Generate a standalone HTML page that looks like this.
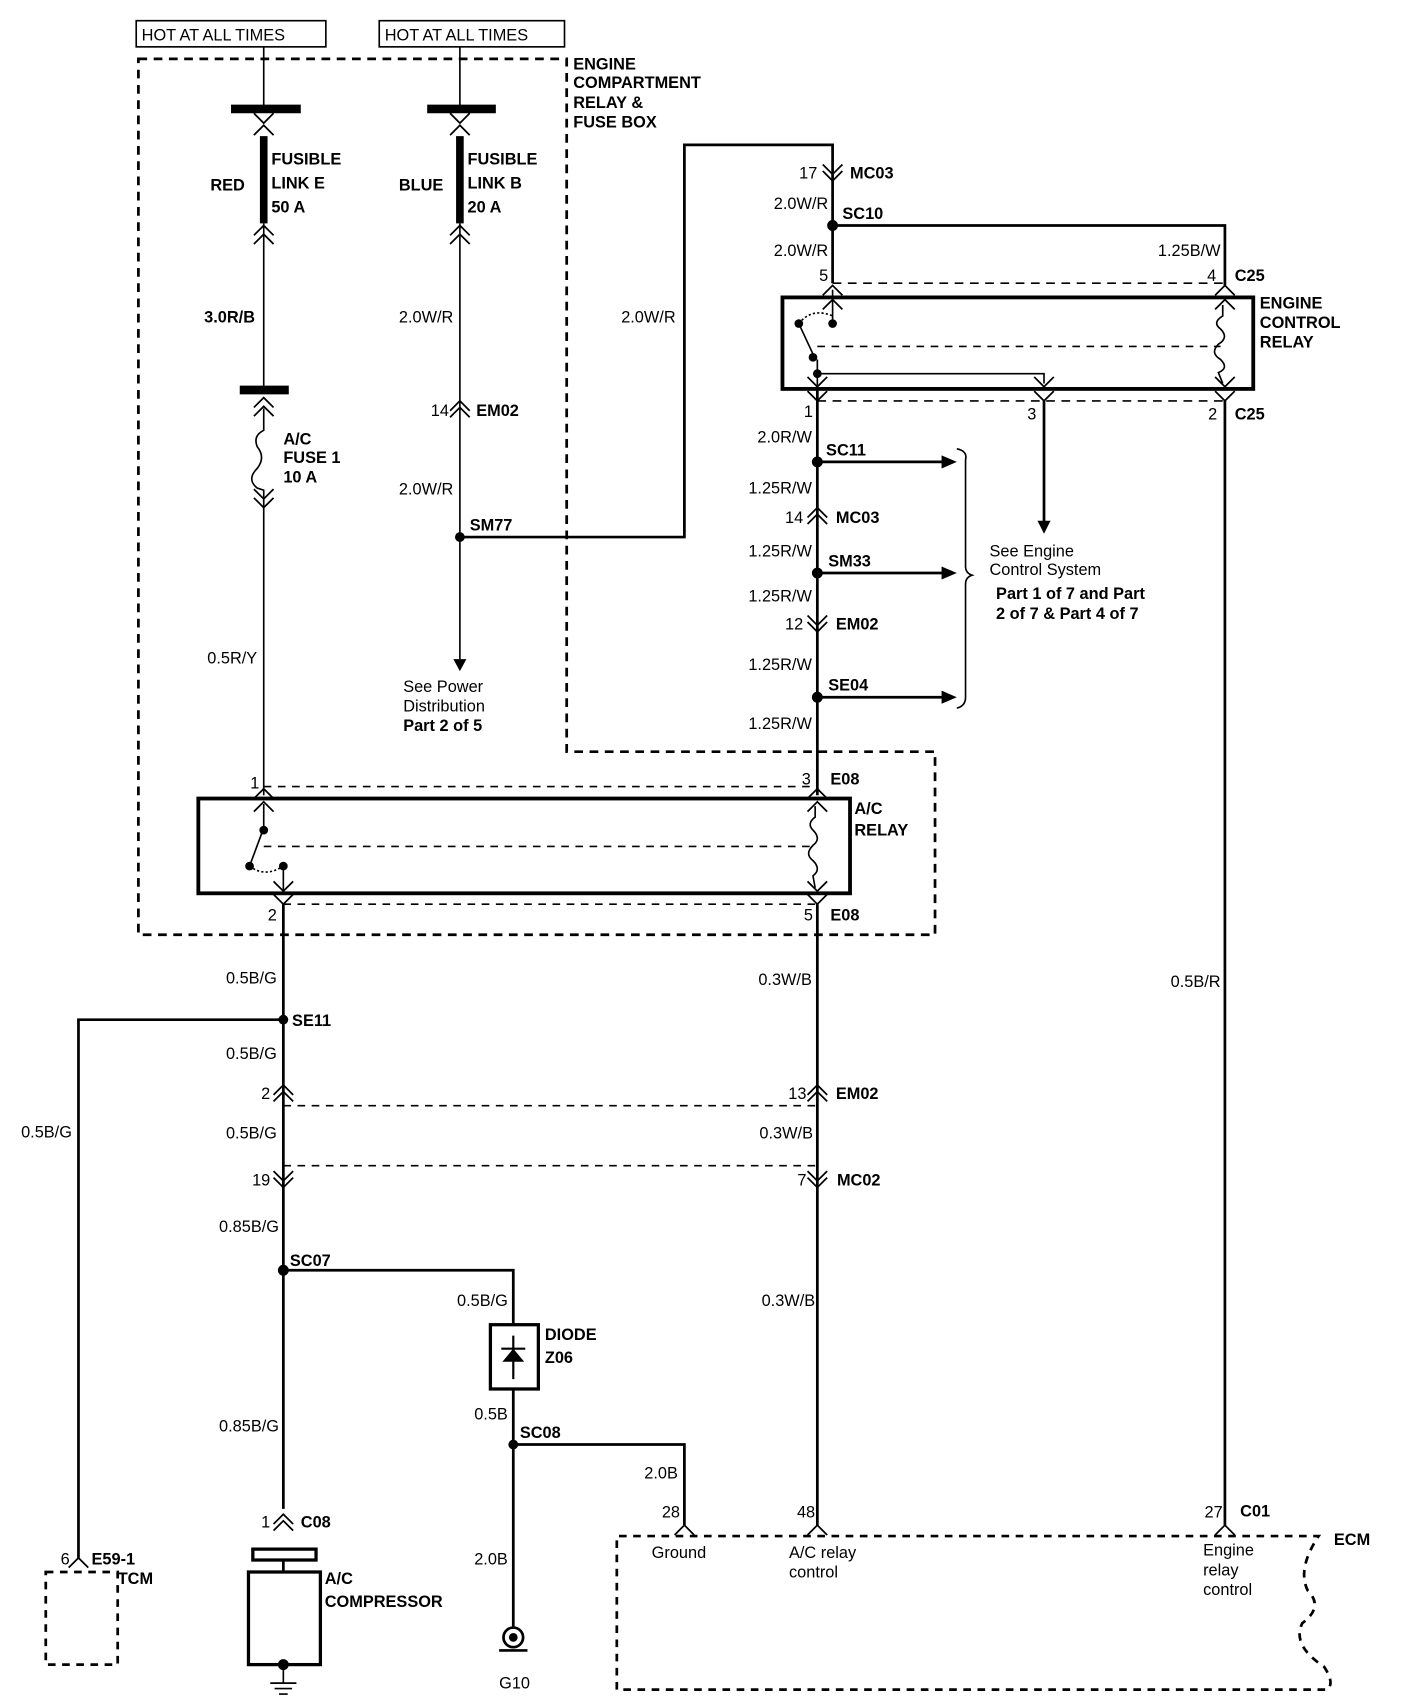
<!DOCTYPE html>
<html><head><meta charset="utf-8"><style>
html,body{margin:0;padding:0;background:#fff}
svg{display:block}
text{font-family:"Liberation Sans",Arial,sans-serif;font-size:15px;fill:#000}
.b{font-weight:bold}
.r{text-anchor:end}
</style></head><body>
<svg width="1408" height="1706" viewBox="0 0 1292 1566" preserveAspectRatio="none" xmlns="http://www.w3.org/2000/svg">
<defs>
<path id="cu" d="M-9,9 L0,0 L9,9 M-9,17 L0,8 L9,17" fill="none" stroke="#000" stroke-width="1.6"/>
<path id="cd" d="M-9,-9 L0,0 L9,-9 M-9,-17 L0,-8 L9,-17" fill="none" stroke="#000" stroke-width="1.6"/>
<path id="su" d="M-9,9 L0,0 L9,9" fill="none" stroke="#000" stroke-width="1.6"/>
<path id="sd" d="M-9,-9 L0,0 L9,-9" fill="none" stroke="#000" stroke-width="1.6"/>
</defs>
<g fill="none" stroke="#000">
<!-- HOT boxes -->
<rect x="125" y="19" width="174" height="24" stroke-width="1.5"/>
<rect x="348" y="19" width="170" height="24" stroke-width="1.5"/>
<!-- big dashed box -->
<path d="M127,54 H520 V690 H858 V858 H127 Z" stroke-width="2.5" stroke-dasharray="8,6"/>
<!-- column 1 -->
<path d="M242,43 V98" stroke-width="1.5"/>
<path d="M212,100 H276" stroke-width="8"/>
<path d="M242,125 V205" stroke-width="7"/>
<path d="M242,205 V355" stroke-width="1.5"/>
<path d="M220,358 H265" stroke-width="8"/>
<path d="M242,375 V395 Q232,400 236,410 Q244,420 236,430 Q226,440 236,448 L242,450 V730" stroke-width="1.5"/>
<!-- column 2 -->
<path d="M422,43 V98" stroke-width="1.5"/>
<path d="M392,100 H455" stroke-width="8"/>
<path d="M422,125 V205" stroke-width="7"/>
<path d="M422,205 V605" stroke-width="1.5"/>
<path d="M422,493 H628 V133 H764 V260" stroke-width="2.5"/>
<path d="M764,207 H1124 V262" stroke-width="2.5"/>
<!-- ECR -->
<path d="M764,260 H1124 M750,368 H1124" stroke-width="1.5" stroke-dasharray="8,6"/>
<rect x="718" y="273" width="432" height="84" stroke-width="3.5"/>
<path d="M750,318 H1120" stroke-width="1.5" stroke-dasharray="7,6"/>
<path d="M764,266 V297 M750,330 V355 M750,343 H958 V352" stroke-width="1.5"/>
<path d="M733,297 L746,325" stroke-width="1.5"/>
<path d="M733,297 Q745,282 764,290" stroke-width="1.5" stroke-dasharray="2,2"/>
<path d="M1122,280 V290 Q1112,296 1120,302 Q1128,310 1118,316 Q1110,324 1120,330 Q1128,338 1118,342 L1122,352" stroke-width="1.5"/>
<path d="M958,368 V480" stroke-width="2.5"/>
<path d="M1124,368 V1400" stroke-width="2.5"/>
<!-- SC chain -->
<path d="M750,357 V730" stroke-width="2.5"/>
<path d="M750,424 H866 M750,526 H866 M750,640 H866" stroke-width="2.5"/>
<path d="M878,412 Q888,414 886,422 V520 Q886,526 892,528 Q886,530 886,536 V640 Q886,648 878,650" stroke-width="1.5"/>
<!-- A/C relay -->
<path d="M242,722 H750 M260,830 H750" stroke-width="1.5" stroke-dasharray="7,6"/>
<rect x="182" y="733" width="598" height="87" stroke-width="3.5"/>
<path d="M242,777 H745" stroke-width="1.5" stroke-dasharray="7,6"/>
<path d="M242,738 V760 M242,760 L229,795 M260,795 V818" stroke-width="1.5"/>
<path d="M229,795 Q243,806 260,795" stroke-width="1.5" stroke-dasharray="2,2"/>
<path d="M748,740 V750 Q740,756 746,762 Q754,770 746,776 Q738,784 746,790 Q754,798 746,804 L748,815" stroke-width="1.5"/>
<!-- lower wires -->
<path d="M260,830 V1385" stroke-width="2.5"/>
<path d="M260,936 H72 V1430" stroke-width="2.5"/>
<path d="M260,1015 H750 M260,1070 H750" stroke-width="1.5" stroke-dasharray="7,6"/>
<path d="M260,1166 H471 V1216 M471,1275 V1495" stroke-width="2.5"/>
<path d="M471,1326 H628 V1400" stroke-width="2.5"/>
<path d="M750,830 V1400" stroke-width="2.5"/>
<rect x="450" y="1216" width="44" height="59" stroke-width="3"/>
<path d="M471,1226 V1266 M460,1238 H482" stroke-width="2"/>
<!-- compressor -->
<rect x="232" y="1422" width="58" height="10" stroke-width="3"/>
<path d="M260,1432 V1443" stroke-width="2.5"/>
<rect x="228" y="1443" width="66" height="85" stroke-width="3"/>
<path d="M260,1528 V1545 M248,1545 H272 M252,1550 H268 M256,1555 H264" stroke-width="1.5"/>
<!-- TCM -->
<path d="M42,1443 H108 V1528 H42 Z" stroke-width="2.5" stroke-dasharray="7,6"/>
<!-- G10 -->
<circle cx="471" cy="1503" r="9" stroke-width="2.5"/>
<path d="M458,1515 H484" stroke-width="2.5"/>
<!-- ECM -->
<path d="M566,1551 V1410 H1210 Q1190,1440 1200,1460 Q1215,1475 1195,1490 Q1185,1510 1215,1530 Q1225,1545 1218,1551 H566" stroke-width="2.5" stroke-dasharray="7,6"/>
</g>
<g fill="#000">
<polygon points="416,605 428,605 422,616"/>
<polygon points="952,478 964,478 958,490"/>
<polygon points="864,418 878,424 864,430"/>
<polygon points="864,520 878,526 864,532"/>
<polygon points="864,634 878,640 864,646"/>
<circle cx="422" cy="493" r="4.5"/><circle cx="764" cy="207" r="5"/>
<circle cx="750" cy="424" r="5"/><circle cx="750" cy="526" r="5"/><circle cx="750" cy="640" r="5"/>
<circle cx="260" cy="936" r="4.5"/><circle cx="260" cy="1166" r="5"/><circle cx="471" cy="1326" r="4.5"/>
<circle cx="733" cy="297" r="4"/><circle cx="764" cy="297" r="4"/><circle cx="746" cy="328" r="4"/><circle cx="750" cy="343" r="4"/>
<circle cx="242" cy="762" r="4"/><circle cx="229" cy="795" r="4"/><circle cx="260" cy="795" r="4"/>
<circle cx="471" cy="1503" r="4"/>
<circle cx="260" cy="1528" r="5"/>
<polygon points="461,1250 481,1250 471,1238"/>
</g>
<!-- chevrons -->
<use href="#sd" x="242" y="113"/><use href="#su" x="242" y="115"/>
<use href="#sd" x="422" y="113"/><use href="#su" x="422" y="115"/>
<use href="#cu" x="242" y="207"/><use href="#cu" x="422" y="207"/>
<use href="#cu" x="242" y="365"/><use href="#cd" x="242" y="466"/>
<use href="#su" x="422" y="368"/><use href="#su" x="422" y="374"/>
<use href="#sd" x="764" y="160"/><use href="#sd" x="764" y="166"/>
<use href="#su" x="764" y="262"/><use href="#su" x="764" y="275"/>
<use href="#su" x="1124" y="262"/><use href="#su" x="1124" y="275"/>
<use href="#sd" x="750" y="355"/><use href="#sd" x="750" y="368"/>
<use href="#sd" x="958" y="355"/><use href="#sd" x="958" y="368"/>
<use href="#sd" x="1124" y="355"/><use href="#sd" x="1124" y="368"/>
<use href="#su" x="750" y="466"/><use href="#su" x="750" y="472"/>
<use href="#sd" x="750" y="574"/><use href="#sd" x="750" y="580"/>
<use href="#su" x="242" y="724"/><use href="#su" x="242" y="736"/>
<use href="#su" x="750" y="724"/><use href="#su" x="750" y="736"/>
<use href="#sd" x="260" y="818"/><use href="#sd" x="260" y="830"/>
<use href="#sd" x="750" y="818"/><use href="#sd" x="750" y="830"/>
<use href="#su" x="260" y="996"/><use href="#su" x="260" y="1002"/>
<use href="#su" x="750" y="996"/><use href="#su" x="750" y="1002"/>
<use href="#sd" x="260" y="1084"/><use href="#sd" x="260" y="1090"/>
<use href="#sd" x="750" y="1084"/><use href="#sd" x="750" y="1090"/>
<use href="#su" x="260" y="1390"/><use href="#su" x="260" y="1396"/>
<use href="#su" x="72" y="1430"/>
<use href="#su" x="628" y="1400"/><use href="#su" x="750" y="1400"/><use href="#su" x="1124" y="1400"/>
<!-- text -->
<text x="130" y="37" font-size="16">HOT AT ALL TIMES</text>
<text x="353" y="37" font-size="16">HOT AT ALL TIMES</text>
<g class="b">
<text x="526" y="64">ENGINE</text><text x="526" y="81">COMPARTMENT</text><text x="526" y="99">RELAY &amp;</text><text x="526" y="117">FUSE BOX</text>
<text x="249" y="151">FUSIBLE</text><text x="249" y="173">LINK E</text><text x="249" y="195">50 A</text>
<text x="193" y="175">RED</text>
<text x="429" y="151">FUSIBLE</text><text x="429" y="173">LINK B</text><text x="429" y="195">20 A</text>
<text x="366" y="175">BLUE</text>
<text x="260" y="408">A/C</text><text x="260" y="425">FUSE 1</text><text x="260" y="443">10 A</text>
<text x="437" y="382">EM02</text><text x="431" y="487">SM77</text>
<text x="780" y="164">MC03</text><text x="773" y="201">SC10</text><text x="1133" y="258">C25</text>
<text x="1156" y="283">ENGINE</text><text x="1156" y="301">CONTROL</text><text x="1156" y="319">RELAY</text>
<text x="1133" y="385">C25</text>
<text x="758" y="418">SC11</text><text x="767" y="480">MC03</text><text x="760" y="520">SM33</text><text x="767" y="578">EM02</text><text x="760" y="634">SE04</text>
<text x="762" y="720">E08</text><text x="784" y="747">A/C</text><text x="784" y="767">RELAY</text><text x="762" y="845">E08</text>
<text x="268" y="942">SE11</text><text x="767" y="1009">EM02</text><text x="768" y="1088">MC02</text>
<text x="266" y="1162">SC07</text><text x="500" y="1230">DIODE</text><text x="500" y="1251">Z06</text>
<text x="477" y="1320">SC08</text><text x="276" y="1402">C08</text>
<text x="298" y="1454">A/C</text><text x="298" y="1475">COMPRESSOR</text>
<text x="84" y="1436">E59-1</text><text x="108" y="1454">TCM</text>
<text x="1138" y="1392">C01</text><text x="1224" y="1418">ECM</text>
<text x="914" y="550">Part 1 of 7 and Part</text><text x="914" y="568">2 of 7 &amp; Part 4 of 7</text>
<text x="370" y="671">Part 2 of 5</text>
<text x="234" y="296" class="r">3.0R/B</text>
</g>
<g>
<text x="416" y="296" class="r">2.0W/R</text><text x="620" y="296" class="r">2.0W/R</text>
<text x="412" y="382" class="r">14</text><text x="416" y="454" class="r">2.0W/R</text>
<text x="236" y="609" class="r">0.5R/Y</text>
<text x="370" y="635">See Power</text><text x="370" y="653">Distribution</text>
<text x="750" y="164" class="r">17</text><text x="760" y="192" class="r">2.0W/R</text><text x="760" y="235" class="r">2.0W/R</text>
<text x="1120" y="235" class="r">1.25B/W</text>
<text x="760" y="258" class="r">5</text><text x="1116" y="258" class="r">4</text>
<text x="746" y="383" class="r">1</text><text x="951" y="385" class="r">3</text><text x="1117" y="385" class="r">2</text>
<text x="745" y="406" class="r">2.0R/W</text><text x="745" y="453" class="r">1.25R/W</text><text x="737" y="480" class="r">14</text>
<text x="745" y="511" class="r">1.25R/W</text><text x="745" y="552" class="r">1.25R/W</text><text x="737" y="578" class="r">12</text>
<text x="745" y="615" class="r">1.25R/W</text><text x="745" y="669" class="r">1.25R/W</text>
<text x="908" y="511">See Engine</text><text x="908" y="528">Control System</text>
<text x="238" y="724" class="r">1</text><text x="744" y="720" class="r">3</text>
<text x="254" y="845" class="r">2</text><text x="746" y="845" class="r">5</text>
<text x="254" y="903" class="r">0.5B/G</text><text x="745" y="904" class="r">0.3W/B</text><text x="1120" y="906" class="r">0.5B/R</text>
<text x="254" y="972" class="r">0.5B/G</text><text x="248" y="1009" class="r">2</text><text x="740" y="1009" class="r">13</text>
<text x="66" y="1044" class="r">0.5B/G</text><text x="254" y="1045" class="r">0.5B/G</text><text x="746" y="1045" class="r">0.3W/B</text>
<text x="248" y="1088" class="r">19</text><text x="740" y="1088" class="r">7</text>
<text x="256" y="1131" class="r">0.85B/G</text><text x="466" y="1199" class="r">0.5B/G</text><text x="748" y="1199" class="r">0.3W/B</text>
<text x="256" y="1314" class="r">0.85B/G</text><text x="466" y="1303" class="r">0.5B</text><text x="622" y="1357" class="r">2.0B</text>
<text x="248" y="1402" class="r">1</text><text x="466" y="1436" class="r">2.0B</text>
<text x="64" y="1436" class="r">6</text>
<text x="624" y="1393" class="r">28</text><text x="748" y="1393" class="r">48</text><text x="1122" y="1393" class="r">27</text>
<text x="598" y="1430">Ground</text><text x="724" y="1430">A/C relay</text><text x="724" y="1448">control</text>
<text x="1104" y="1428">Engine</text><text x="1104" y="1446">relay</text><text x="1104" y="1464">control</text>
<text x="458" y="1550">G10</text>
</g>
</svg>
</body></html>
